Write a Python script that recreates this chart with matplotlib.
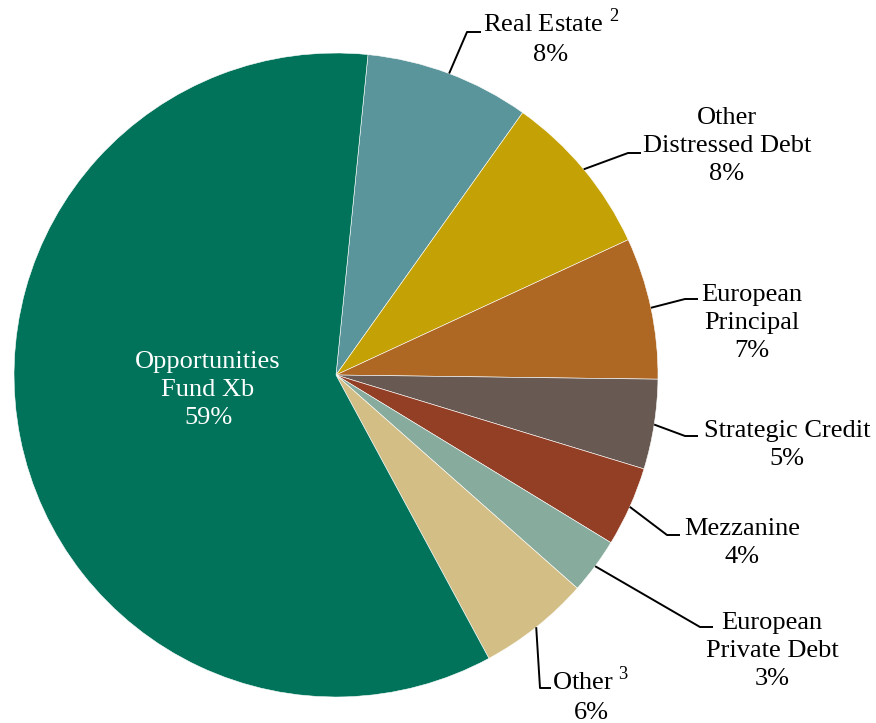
import matplotlib
matplotlib.use("Agg")
import matplotlib.pyplot as plt
import numpy as np

plt.rcParams["font.family"] = ["Liberation Serif", "DejaVu Serif"]
plt.rcParams["mathtext.fontset"] = "custom"
plt.rcParams["mathtext.rm"] = "Liberation Serif"

labels = ["Real Estate $^{2}$", "Other\nDistressed Debt", "European\nPrincipal",
          "Strategic Credit", "Mezzanine", "European\nPrivate Debt", "Other $^{3}$",
          "Opportunities\nFund Xb"]
values = [8.25, 8.25, 7.1, 4.5, 4.0, 2.8, 5.6, 59.4]
pct_labels = ["8%", "8%", "7%", "5%", "4%", "3%", "6%", "59%"]
colors = ["#5A959B", "#C4A205", "#AE6823", "#685A52", "#933F26", "#87AB9C",
          "#D3BF86", "#00735A"]

W, H = 876, 723
fig = plt.figure(figsize=(W / 100, H / 100), dpi=100)
ax = fig.add_axes([0, 0, 1, 1])

cx, cy, r = 336, H - 375, 322
wedges, _ = ax.pie(values, colors=colors, startangle=84.3, counterclock=False,
                   center=(cx, cy), radius=r, frame=True,
                   wedgeprops=dict(edgecolor="white", linewidth=0.4))
ax.set_xlim(0, W)
ax.set_ylim(0, H)
ax.set_aspect("equal")
ax.axis("off")

# layout: elbow point, end of horizontal tick, text centre (pixel coords, y down)
layout = [
    ((467, 32), (481, 32), (551, 37)),
    ((628, 153), (641, 153), (727, 146)),
    ((685, 299), (698, 299), (752, 323)),
    ((685, 436), (698, 436), (787, 445)),
    ((667, 535), (680, 535), (742, 543)),
    ((700, 627), (713, 627), (772, 651)),
    ((540, 688), (551, 688), (591, 695)),
    (None, None, (208, 390)),
]

for w, lab, pct, (elbow, end, tpos) in zip(wedges, labels, pct_labels, layout):
    mid = np.deg2rad((w.theta1 + w.theta2) / 2)
    color = "black"
    if elbow is not None:
        sx, sy = cx + r * np.cos(mid), cy + r * np.sin(mid)
        ax.plot([sx, elbow[0], end[0]], [sy, H - elbow[1], H - end[1]],
                color="black", lw=1.4, solid_capstyle="butt")
    else:
        color = "white"
    ax.text(tpos[0], H - tpos[1], lab + "\n" + pct, ha="center", va="center",
            fontsize=19, color=color, linespacing=1.38)

fig.savefig("out.png", dpi=100)
